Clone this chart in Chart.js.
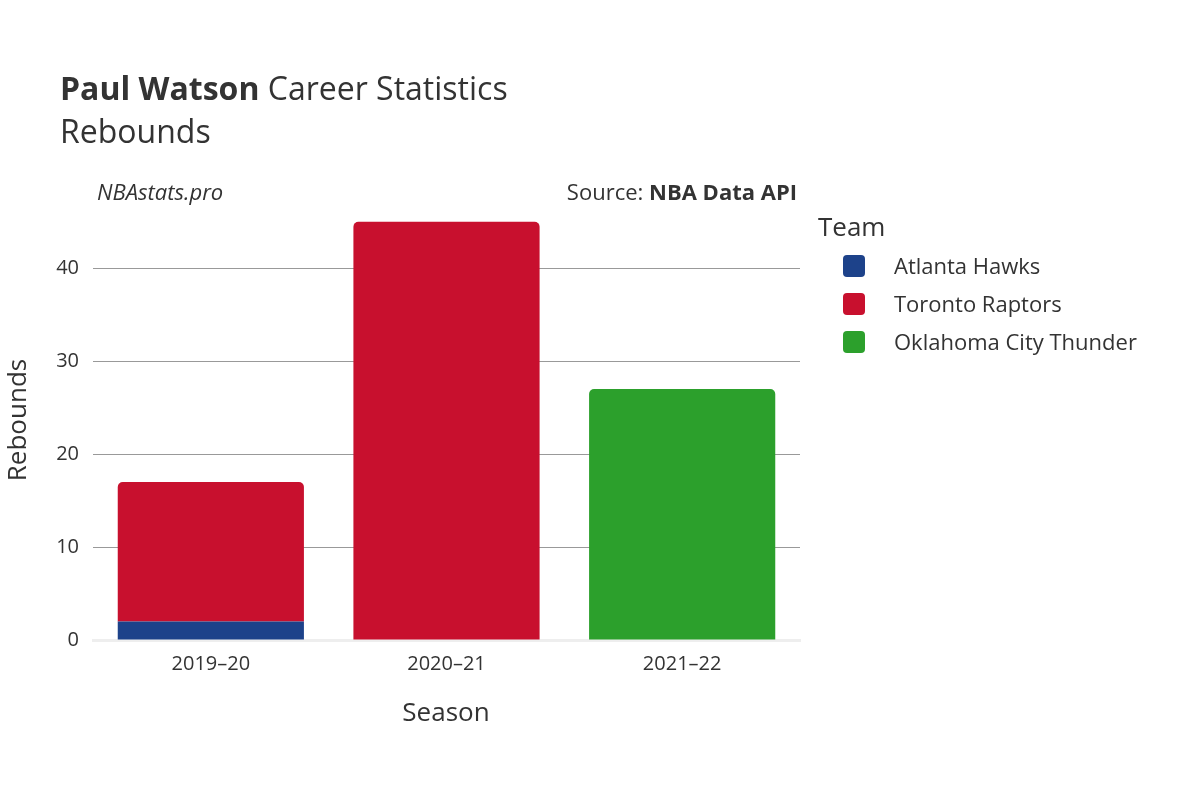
<!DOCTYPE html>
<html><head><meta charset="utf-8">
<script src="https://cdn.jsdelivr.net/npm/chart.js@4"></script>
<style>html,body{margin:0;padding:0;background:#fff}#wrap{width:1200px;height:800px}</style>
</head><body><div id="wrap"><canvas id="c" width="1200" height="800"></canvas></div>
<script>
const seasons = ["2019–20", "2020–21", "2021–22"];
const teams = ["Atlanta Hawks", "Toronto Raptors", "Oklahoma City Thunder"];
const hawks = [2, null, null];
const raptors = [15, 45, null];
const thunder = [null, null, 27];
const colors = ["#1d428a", "#c8102e", "#2ca02c"];
const yTicks = [0, 10, 20, 30, 40];
const F = "'Open Sans', sans-serif";

const textPlugin = {
  id: 'texts',
  afterDraw(chart) {
    const ctx = chart.ctx;
    ctx.save();
    ctx.fillStyle = '#333';
    ctx.textBaseline = 'alphabetic';
    ctx.textAlign = 'left';
    ctx.font = `bold 32px ${F}`;
    ctx.fillText("Paul Watson", 60, 100);
    const w = ctx.measureText("Paul Watson ").width;
    ctx.font = `32px ${F}`;
    ctx.fillText("Career Statistics", 60 + w, 100);
    ctx.fillText("Rebounds", 60, 143);
    ctx.font = `italic 22px ${F}`;
    ctx.fillText("NBAstats.pro", 97, 200);
    ctx.textAlign = 'right';
    ctx.font = `bold 22px ${F}`;
    ctx.fillText("NBA Data API", 797, 200);
    const bw = ctx.measureText("NBA Data API").width;
    ctx.font = `22px ${F}`;
    ctx.fillText("Source: ", 797 - bw, 200);
    ctx.textAlign = 'center';
    ctx.font = `26px ${F}`;
    ctx.fillText("Season", 446, 721);
    ctx.save();
    ctx.translate(26, 420);
    ctx.rotate(-Math.PI / 2);
    ctx.fillText("Rebounds", 0, 0);
    ctx.restore();
    ctx.textAlign = 'left';
    ctx.font = `26px ${F}`;
    ctx.fillText("Team", 818, 236);
    ctx.font = `22px ${F}`;
    chart.data.datasets.forEach((ds, i) => {
      const y = 266 + i * 38;
      ctx.fillStyle = ds.backgroundColor;
      ctx.beginPath();
      ctx.roundRect(843, y - 11, 22, 22, 4);
      ctx.fill();
      ctx.fillStyle = '#333';
      ctx.fillText(ds.label, 894, y + 8);
    });
    ctx.restore();
  }
};

new Chart(document.getElementById('c'), {
  type: 'bar',
  data: {
    labels: seasons,
    datasets: [
      { label: teams[0], data: hawks, backgroundColor: colors[0], borderRadius: 0 },
      { label: teams[1], data: raptors, backgroundColor: colors[1], borderRadius: 5, borderSkipped: 'bottom' },
      { label: teams[2], data: thunder, backgroundColor: colors[2], borderRadius: 5, borderSkipped: 'bottom' }
    ]
  },
  options: {
    responsive: false,
    animation: false,
    layout: { padding: { left: 0, top: 205, right: 400, bottom: 0 } },
    plugins: { legend: { display: false }, tooltip: { enabled: false } },
    datasets: { bar: { categoryPercentage: 1, barPercentage: 0.79, skipNull: false } },
    scales: {
      x: {
        stacked: true,
        grid: { display: false },
        border: { color: '#eee', width: 3 },
        ticks: { color: '#333', font: { family: F, size: 20 }, padding: 4 },
        afterFit(s) { s.height = 160; }
      },
      y: {
        stacked: true,
        min: 0, max: 46.8,
        afterBuildTicks(s) { s.ticks = yTicks.map(v => ({ value: v })); },
        grid: { color: (c) => c.tick && c.tick.value === 0 ? 'rgba(0,0,0,0)' : '#999', drawTicks: false, z: -1 },
        border: { display: false },
        ticks: { color: '#333', font: { family: F, size: 20 }, padding: 14 },
        afterFit(s) { s.width = 93; }
      }
    }
  },
  plugins: [textPlugin]
});
</script></body></html>
